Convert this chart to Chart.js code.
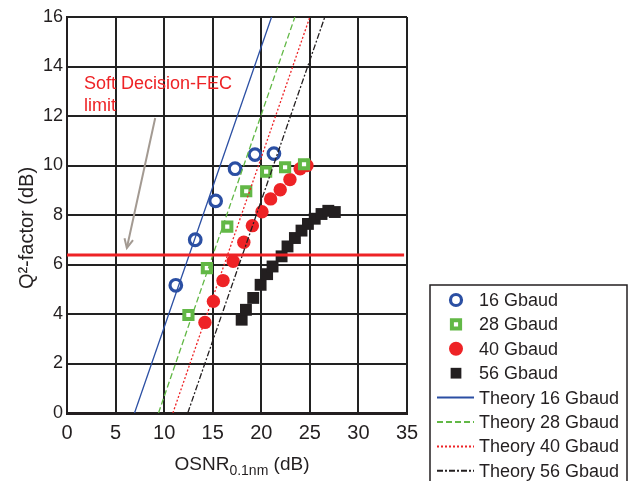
<!DOCTYPE html>
<html>
<head>
<meta charset="utf-8">
<script src="https://cdn.jsdelivr.net/npm/chart.js@4"></script>
<style>
  html,body{margin:0;padding:0;background:#fff;}
  #wrap{width:632px;height:481px;}
</style>
</head>
<body>
<div id="wrap"><canvas id="c" width="632" height="481"></canvas></div>
<script>
// --- Data ---
const osnr16 = [11.2, 13.2, 15.3, 17.3, 19.35, 21.3];
const q16    = [5.16, 7.0, 8.57, 9.87, 10.44, 10.48];
const osnr28 = [12.5, 14.4, 16.5, 18.45, 20.5, 22.45, 24.4];
const q28    = [3.96, 5.85, 7.53, 8.96, 9.75, 9.93, 10.05];
const osnr40 = [14.2, 15.07, 16.06, 17.1, 18.2, 19.08, 20.07, 20.96, 21.95, 22.95, 24.0, 24.7];
const q40    = [3.66, 4.51, 5.35, 6.13, 6.9, 7.57, 8.13, 8.65, 9.02, 9.43, 9.87, 10.0];
const osnr56 = [17.98, 18.42, 19.17, 19.93, 20.6, 21.16, 22.09, 22.7, 23.46, 24.14, 24.8, 25.5, 26.2, 26.9, 27.57];
const q56    = [3.77, 4.17, 4.65, 5.18, 5.61, 5.92, 6.33, 6.73, 7.07, 7.37, 7.64, 7.85, 8.04, 8.17, 8.12];

const theoryQ   = [0, 16];
const theory16X = [6.95, 21.06];
const theory28X = [9.42, 23.46];
const theory40X = [10.9, 25.0];
const theory56X = [12.43, 26.54];

const fecLimit = 6.38;
const fecX = [0, 34.7];
const arrowX = [9.08, 6.16];
const arrowY = [11.92, 6.67];

const xMin = 0, xMax = 35, xStep = 5;
const yMin = 0, yMax = 16, yStep = 2;

const FONT = "'Liberation Sans', Arial, sans-serif";
const BLUE = '#2b4fa3', GREEN = '#62b846', RED = '#ee2326', BLACK = '#231f20';

const pts = (xs, ys) => xs.map((x, i) => ({x: x, y: ys[i]}));

// --- Custom drawing: arrow head, annotation, axis titles, legend ---
const extras = {
  id: 'extras',
  afterDatasetsDraw(chart) {
    const ctx = chart.ctx, xs = chart.scales.x, ys = chart.scales.y;
    // arrow head
    const x1 = xs.getPixelForValue(arrowX[0]), y1 = ys.getPixelForValue(arrowY[0]);
    const x2 = xs.getPixelForValue(arrowX[1]), y2 = ys.getPixelForValue(arrowY[1]);
    const a = Math.atan2(y2 - y1, x2 - x1);
    ctx.save();
    ctx.strokeStyle = '#a39a92';
    ctx.lineWidth = 2;
    ctx.beginPath();
    ctx.moveTo(x2 - 10 * Math.cos(a - 0.45), y2 - 10 * Math.sin(a - 0.45));
    ctx.lineTo(x2, y2);
    ctx.lineTo(x2 - 10 * Math.cos(a + 0.45), y2 - 10 * Math.sin(a + 0.45));
    ctx.stroke();
    // annotation text
    ctx.fillStyle = RED;
    ctx.font = '18px ' + FONT;
    ctx.textAlign = 'left';
    ctx.textBaseline = 'alphabetic';
    ctx.fillText('Soft Decision-FEC', 84, 89);
    ctx.fillText('limit', 84, 111);
    ctx.restore();
  },
  afterDraw(chart) {
    const ctx = chart.ctx;
    ctx.save();
    ctx.fillStyle = BLACK;
    // x title with subscript
    ctx.textBaseline = 'alphabetic';
    ctx.textAlign = 'left';
    const p1 = 'OSNR', p3 = ' (dB)';
    ctx.font = '19px ' + FONT; const w1 = ctx.measureText(p1).width;
    ctx.font = '14px ' + FONT; const w2 = ctx.measureText('0.1nm').width;
    ctx.font = '19px ' + FONT; const w3 = ctx.measureText(p3).width;
    const sx = 242 - (w1 + w2 + w3) / 2;
    const by = 470;
    ctx.fillText(p1, sx, by);
    ctx.font = '14px ' + FONT; ctx.fillText('0.1nm', sx + w1, by + 5);
    ctx.font = '19px ' + FONT; ctx.fillText(p3, sx + w1 + w2, by);
    // y title
    ctx.translate(27, 228);
    ctx.rotate(-Math.PI / 2);
    ctx.textAlign = 'center';
    ctx.textBaseline = 'middle';
    ctx.font = '20px ' + FONT;
    ctx.fillText('Q\u00B2-factor (dB)', 0, 0);
    ctx.restore();

    // legend
    ctx.save();
    ctx.fillStyle = '#fff';
    ctx.fillRect(430, 285, 197, 200);
    ctx.strokeStyle = BLACK;
    ctx.lineWidth = 1.5;
    ctx.strokeRect(430, 285, 197, 220);
    const items = chart.data.datasets.filter(d => d.inLegend);
    items.forEach((d, i) => {
      const cy = 300 + i * 24.4;
      if (d.showLine === false) {
        ctx.save();
        ctx.strokeStyle = d.borderColor;
        ctx.fillStyle = d.backgroundColor;
        ctx.lineWidth = d.borderWidth;
        Chart.helpers.drawPoint(ctx, {pointStyle: d.pointStyle, radius: d.legendRadius, borderWidth: d.borderWidth}, 456, cy);
        ctx.restore();
      } else {
        ctx.save();
        ctx.strokeStyle = d.borderColor;
        ctx.lineWidth = 2;
        ctx.setLineDash(d.borderDash || []);
        ctx.beginPath();
        ctx.moveTo(437, cy); ctx.lineTo(474, cy);
        ctx.stroke();
        ctx.restore();
      }
      ctx.fillStyle = BLACK;
      ctx.font = '18px ' + FONT;
      ctx.textAlign = 'left';
      ctx.textBaseline = 'middle';
      ctx.fillText(d.label, 479, cy + 1);
    });
    ctx.restore();
  }
};

new Chart(document.getElementById('c').getContext('2d'), {
  type: 'scatter',
  data: {
    datasets: [
      {label: '16 Gbaud', inLegend: true, legendRadius: 5.5, data: pts(osnr16, q16), showLine: false, pointStyle: 'circle', pointRadius: 5.8, borderWidth: 3.2, borderColor: BLUE, backgroundColor: '#fff', order: 3},
      {label: '28 Gbaud', inLegend: true, legendRadius: 5.8, data: pts(osnr28, q28), showLine: false, pointStyle: 'rect', pointRadius: 5.8, borderWidth: 4, borderColor: GREEN, backgroundColor: '#fff', order: 3},
      {label: '40 Gbaud', inLegend: true, legendRadius: 7, data: pts(osnr40, q40), showLine: false, pointStyle: 'circle', pointRadius: 6.7, borderWidth: 0, borderColor: RED, backgroundColor: RED, order: 3},
      {label: '56 Gbaud', inLegend: true, legendRadius: 7.6, data: pts(osnr56, q56), showLine: false, pointStyle: 'rect', pointRadius: 8.4, borderWidth: 0, borderColor: BLACK, backgroundColor: BLACK, order: 3},
      {label: 'Theory 16 Gbaud', inLegend: true, data: pts(theory16X, theoryQ), showLine: true, borderColor: BLUE, borderWidth: 1.3, pointRadius: 0, order: 1},
      {label: 'Theory 28 Gbaud', inLegend: true, data: pts(theory28X, theoryQ), showLine: true, borderColor: GREEN, borderWidth: 1.3, borderDash: [6, 3], pointRadius: 0, order: 1},
      {label: 'Theory 40 Gbaud', inLegend: true, data: pts(theory40X, theoryQ), showLine: true, borderColor: RED, borderWidth: 1.3, borderDash: [2, 2], pointRadius: 0, order: 1},
      {label: 'Theory 56 Gbaud', inLegend: true, data: pts(theory56X, theoryQ), showLine: true, borderColor: BLACK, borderWidth: 1.3, borderDash: [6, 2, 2, 2], pointRadius: 0, order: 1},
      {label: 'FEC', data: pts(fecX, [fecLimit, fecLimit]), showLine: true, borderColor: RED, borderWidth: 3, pointRadius: 0, order: 0},
      {label: 'arrow', data: pts(arrowX, arrowY), showLine: true, borderColor: '#a39a92', borderWidth: 2, pointRadius: 0, order: 0}
    ]
  },
  options: {
    responsive: false,
    animation: false,
    layout: {padding: {top: 17, right: 225, left: 0, bottom: 0}},
    plugins: {legend: {display: false}, tooltip: {enabled: false}},
    scales: {
      x: {
        type: 'linear', min: xMin, max: xMax,
        afterFit: s => { s.height = 68; },
        ticks: {stepSize: xStep, color: BLACK, font: {family: FONT, size: 20}, padding: 8},
        grid: {color: '#222', lineWidth: 2, drawTicks: false},
        border: {color: BLACK, width: 3}
      },
      y: {
        type: 'linear', min: yMin, max: yMax,
        afterFit: s => { s.width = 67; },
        ticks: {stepSize: yStep, color: BLACK, font: {family: FONT, size: 18}, padding: 4},
        grid: {color: '#222', lineWidth: 2, drawTicks: false},
        border: {color: BLACK, width: 2}
      }
    }
  },
  plugins: [extras]
});
</script>
</body>
</html>
